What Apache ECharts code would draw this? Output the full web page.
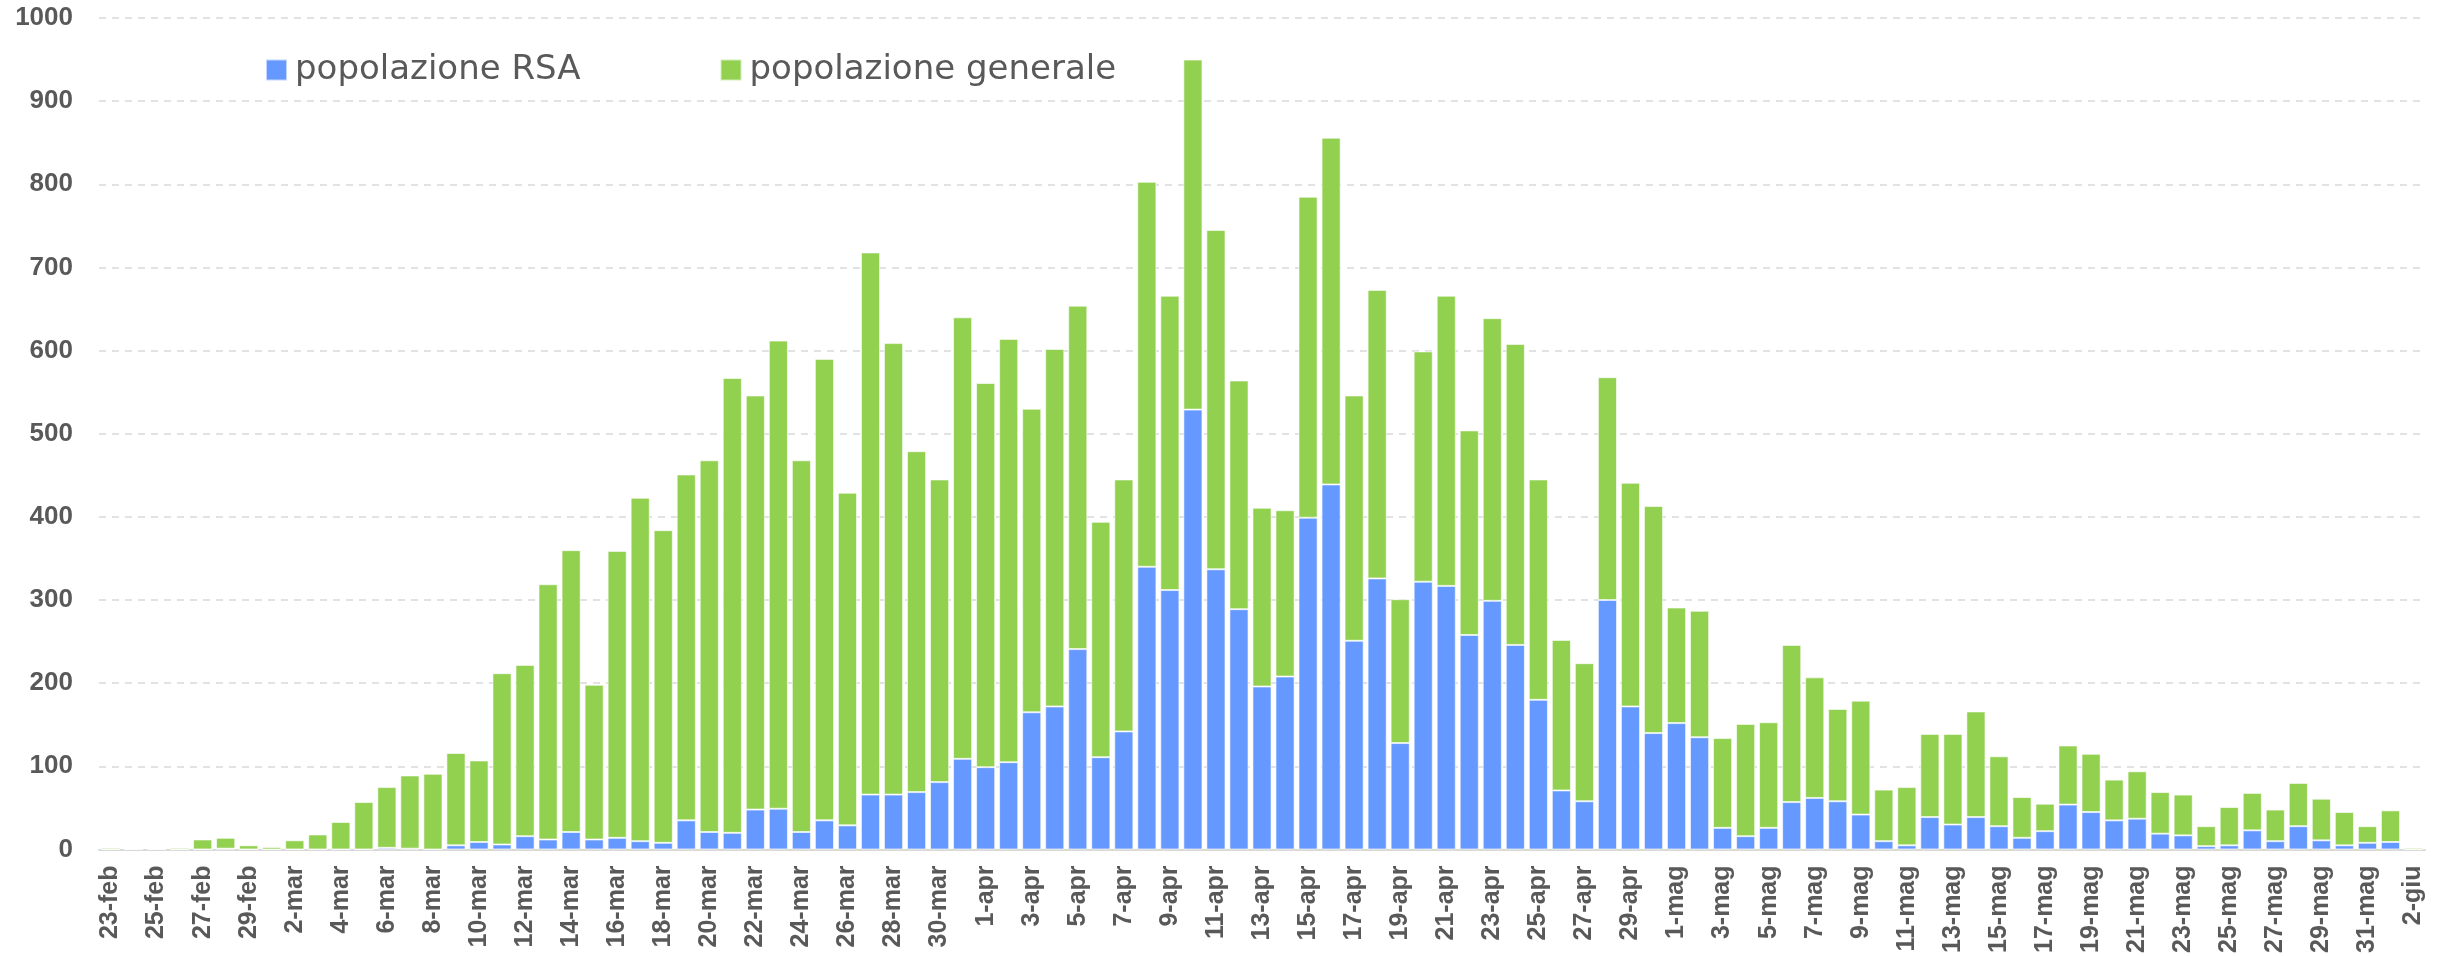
<!DOCTYPE html>
<html>
<head>
  <meta charset="utf-8">
  <title>popolazione RSA / popolazione generale</title>
  <script src="https://cdn.jsdelivr.net/npm/echarts@6/dist/echarts.min.js"></script>
  <style>
    html, body { margin: 0; padding: 0; background: #fff; }
  </style>
</head>
<body>
  <div id="chart" style="width: 2450px;height:956px;"></div>
  <script type="application/javascript">
      // giorni (categorie)
      var giorni = [
          '23-feb','24-feb','25-feb','26-feb','27-feb','28-feb','29-feb',
          '1-mar','2-mar','3-mar','4-mar','5-mar','6-mar','7-mar','8-mar','9-mar','10-mar',
          '11-mar','12-mar','13-mar','14-mar','15-mar','16-mar','17-mar','18-mar','19-mar','20-mar',
          '21-mar','22-mar','23-mar','24-mar','25-mar','26-mar','27-mar','28-mar','29-mar','30-mar','31-mar',
          '1-apr','2-apr','3-apr','4-apr','5-apr','6-apr','7-apr','8-apr','9-apr','10-apr',
          '11-apr','12-apr','13-apr','14-apr','15-apr','16-apr','17-apr','18-apr','19-apr','20-apr',
          '21-apr','22-apr','23-apr','24-apr','25-apr','26-apr','27-apr','28-apr','29-apr','30-apr',
          '1-mag','2-mag','3-mag','4-mag','5-mag','6-mag','7-mag','8-mag','9-mag','10-mag',
          '11-mag','12-mag','13-mag','14-mag','15-mag','16-mag','17-mag','18-mag','19-mag','20-mag',
          '21-mag','22-mag','23-mag','24-mag','25-mag','26-mag','27-mag','28-mag','29-mag','30-mag','31-mag',
          '1-giu','2-giu'
      ];

      // popolazione RSA (parte blu)
      var rsa = [
          0, 0, 0, 0, 0, 1, 0,
          0, 0, 0, 0, 0, 2, 1, 0, 5, 9,
          6, 16, 12, 21, 12, 14, 10, 8, 35, 21,
          20, 48, 49, 21, 35, 29, 66, 66, 69, 81, 109,
          99, 105, 165, 172, 241, 111, 142, 340, 312, 529,
          337, 289, 196, 208, 399, 439, 251, 326, 128, 322,
          317, 258, 299, 246, 180, 71, 58, 300, 172, 140,
          152, 135, 26, 16, 26, 57, 62, 58, 42, 10,
          5, 39, 30, 39, 28, 14, 22, 54, 45, 35,
          37, 19, 17, 4, 5, 23, 10, 28, 11, 5, 8,
          9, 0
      ];

      // popolazione generale (parte verde)
      var generale = [
          2, 1, 1, 2, 12, 13, 5,
          3, 11, 18, 33, 57, 73, 88, 91, 111, 98,
          206, 206, 307, 339, 186, 345, 413, 376, 416, 447,
          547, 498, 563, 447, 555, 400, 652, 543, 410, 364, 531,
          462, 509, 365, 430, 413, 283, 303, 463, 354, 421,
          408, 275, 215, 200, 386, 417, 295, 347, 173, 277,
          349, 246, 340, 362, 265, 181, 166, 268, 269, 273,
          139, 152, 108, 135, 127, 189, 145, 111, 137, 62,
          70, 100, 109, 127, 84, 49, 33, 71, 70, 49,
          57, 50, 49, 24, 46, 45, 38, 52, 50, 40, 20,
          38, 2
      ];

      var grigio = '#595959';
      var myChart = echarts.init(document.getElementById('chart'));
      myChart.setOption({
          animation: false,
          legend: {
              left: 260,
              top: 48,
              itemWidth: 21,
              itemHeight: 21,
              itemGap: 139,
              icon: 'rect',
              textStyle: {
                  fontFamily: 'DejaVu Sans',
                  fontSize: 34,
                  color: grigio,
                  padding: [0, 0, 0, 3]
              },
              data: ['popolazione RSA', 'popolazione generale']
          },
          grid: {
              left: 99,
              right: 25,
              top: 18,
              bottom: 101
          },
          xAxis: {
              type: 'category',
              data: giorni,
              axisTick: { show: false },
              axisLine: { lineStyle: { color: '#d9d9d9', width: 2 } },
              axisLabel: {
                  interval: 1,
                  rotate: 90,
                  margin: 16,
                  fontFamily: 'Liberation Sans',
                  fontWeight: 'bold',
                  fontSize: 25,
                  color: grigio
              }
          },
          yAxis: {
              type: 'value',
              min: 0,
              max: 1000,
              interval: 100,
              axisLine: { show: false },
              axisTick: { show: false },
              axisLabel: {
                  margin: 26,
                  fontFamily: 'Liberation Sans',
                  fontWeight: 'bold',
                  fontSize: 26,
                  color: grigio,
                  formatter: function (v) { return String(v); }
              },
              splitLine: {
                  lineStyle: { color: '#d9d9d9', width: 1.5, type: [7, 6] }
              }
          },
          series: [
              {
                  name: 'popolazione RSA',
                  type: 'bar',
                  stack: 'totale',
                  barCategoryGap: '17%',
                  itemStyle: { color: '#6699ff', borderColor: 'rgba(255,255,255,0.6)', borderWidth: 1 },
                  data: rsa
              },
              {
                  name: 'popolazione generale',
                  type: 'bar',
                  stack: 'totale',
                  barCategoryGap: '17%',
                  itemStyle: { color: '#92d050', borderColor: 'rgba(255,255,255,0.6)', borderWidth: 1 },
                  data: generale
              }
          ]
      });
  </script>
</body>
</html>
